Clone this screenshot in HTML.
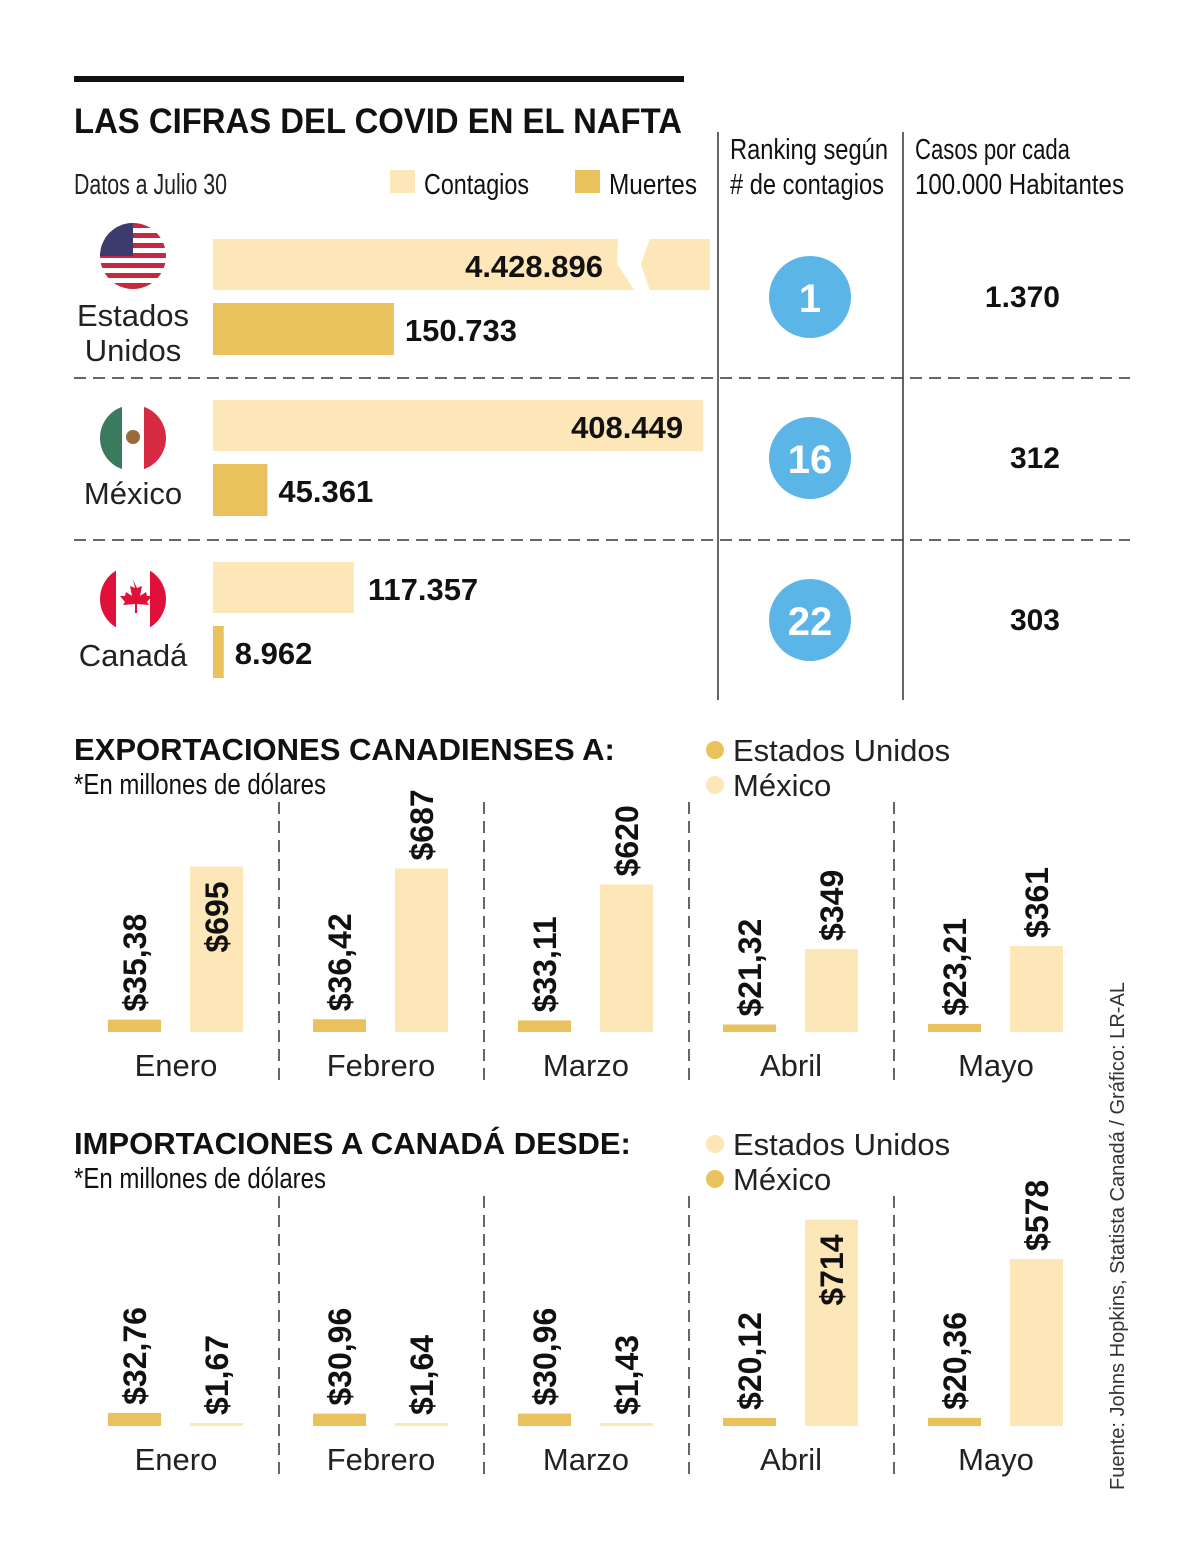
<!DOCTYPE html>
<html><head><meta charset="utf-8"><style>
body{margin:0;background:#fff}
svg{display:block;font-family:"Liberation Sans",sans-serif}
</style></head><body>
<svg id="s" width="1200" height="1566" viewBox="0 0 1200 1566" xmlns="http://www.w3.org/2000/svg">
<rect x="0" y="0" width="1200" height="1566" fill="#fff"/>
<rect x="74" y="76" width="610" height="6" fill="#111"/>
<text x="74" y="133" font-size="35" font-weight="bold" textLength="608" lengthAdjust="spacingAndGlyphs" fill="#111">LAS CIFRAS DEL COVID EN EL NAFTA</text>
<text x="74" y="194" font-size="29" textLength="153" lengthAdjust="spacingAndGlyphs" fill="#222">Datos a Julio 30</text>
<rect x="390" y="170" width="25" height="23" fill="#fde6b7"/>
<text x="424" y="194" font-size="29" textLength="105" lengthAdjust="spacingAndGlyphs" fill="#111">Contagios</text>
<rect x="575" y="170" width="25" height="23" fill="#e9c25e"/>
<text x="609" y="194" font-size="29" textLength="88" lengthAdjust="spacingAndGlyphs" fill="#111">Muertes</text>
<line x1="718" y1="132" x2="718" y2="700" stroke="#333" stroke-width="1.5"/>
<line x1="903" y1="132" x2="903" y2="700" stroke="#333" stroke-width="1.5"/>
<text font-size="29" fill="#111"><tspan x="730" y="159" textLength="158" lengthAdjust="spacingAndGlyphs">Ranking según</tspan><tspan x="730" y="194" textLength="154" lengthAdjust="spacingAndGlyphs"># de contagios</tspan></text>
<text font-size="29" fill="#111"><tspan x="915" y="159" textLength="155" lengthAdjust="spacingAndGlyphs">Casos por cada</tspan><tspan x="915" y="194" textLength="209" lengthAdjust="spacingAndGlyphs">100.000 Habitantes</tspan></text>
<line x1="74" y1="378" x2="1130" y2="378" stroke="#333" stroke-width="1.5" stroke-dasharray="12,7"/>
<line x1="74" y1="540" x2="1130" y2="540" stroke="#333" stroke-width="1.5" stroke-dasharray="12,7"/>
<defs>
<clipPath id="cu"><circle cx="133" cy="256" r="33"/></clipPath>
<clipPath id="cm"><circle cx="133" cy="438" r="33"/></clipPath>
<clipPath id="cc"><circle cx="133" cy="599" r="33"/></clipPath>
</defs>
<g clip-path="url(#cu)">
<rect x="100" y="223" width="66" height="66" fill="#fff"/>
<g fill="#c8283e"><rect x="100" y="223" width="66" height="5"/><rect x="100" y="233" width="66" height="5"/><rect x="100" y="243" width="66" height="5"/><rect x="100" y="253" width="66" height="5"/><rect x="100" y="263" width="66" height="5"/><rect x="100" y="273" width="66" height="5"/><rect x="100" y="283" width="66" height="6"/></g>
<rect x="100" y="223" width="33" height="33" fill="#3c3b6e"/>
</g>
<g clip-path="url(#cm)">
<rect x="100" y="405" width="22" height="66" fill="#3a7a5e"/><rect x="122" y="405" width="22" height="66" fill="#fff"/><rect x="144" y="405" width="22" height="66" fill="#d62a42"/>
<circle cx="133" cy="437" r="7" fill="#9a6b3a"/>
</g>
<g clip-path="url(#cc)">
<rect x="100" y="566" width="66" height="66" fill="#fff"/><rect x="100" y="566" width="16" height="66" fill="#e0103a"/><rect x="150" y="566" width="16" height="66" fill="#e0103a"/>
<path d="M133 580 l4 8 5-2 -2 10 6-4 1 4 5 0 -5 6 2 3 -12 -1 0 9 -2 0 0 -9 -12 1 2 -3 -5 -6 5 0 1 -4 6 4 -2 -10 5 2z" fill="#e0103a"/>
</g>
<text x="133" text-anchor="middle" font-size="31" fill="#222"><tspan x="133" y="326">Estados</tspan><tspan x="133" y="361">Unidos</tspan></text>
<text x="133" y="504" text-anchor="middle" font-size="31" fill="#222">México</text>
<text x="133" y="666" text-anchor="middle" font-size="31" fill="#222">Canadá</text>
<g id="covid"></g>
<g id="exp"></g>
<g id="imp"></g>
<text transform="translate(1124,1490) rotate(-90)" font-size="20" fill="#333" textLength="508" lengthAdjust="spacingAndGlyphs">Fuente: Johns Hopkins, Statista Canadá / Gráfico: LR-AL</text>
</svg>
<script>
const NS="http://www.w3.org/2000/svg";
const countries=["usa","mexico","canada"];
const contagios=[4428896,408449,117357];
const muertes=[150733,45361,8962];
const contagiosLabels=["4.428.896","408.449","117.357"];
const muertesLabels=["150.733","45.361","8.962"];
const ranking=["1","16","22"];
const casos=["1.370","312","303"];

const months=["Enero","Febrero","Marzo","Abril","Mayo"];
const expUS=[35.38,36.42,33.11,21.32,23.21];
const expMX=[695,687,620,349,361];
const expUSLabels=["$35,38","$36,42","$33,11","$21,32","$23,21"];
const expMXLabels=["$695","$687","$620","$349","$361"];
const impUS=[32.76,30.96,30.96,20.12,20.36];
const impMX=[1.67,1.64,1.43,714,578];
const impUSLabels=["$32,76","$30,96","$30,96","$20,12","$20,36"];
const impMXLabels=["$1,67","$1,64","$1,43","$714","$578"];

function mk(tag,attrs,parent,txt){const e=document.createElementNS(NS,tag);for(const k in attrs)e.setAttribute(k,attrs[k]);if(txt!==undefined)e.textContent=txt;parent.appendChild(e);return e;}

const cv=document.getElementById('covid');
const x0=213, kx=0.0012, maxW=497;
const rowY=[239,400,562];
countries.forEach((c,i)=>{
  const y=rowY[i];
  let w=contagios[i]*kx; const broken=w>maxW; if(broken)w=maxW;
  const b=mk('rect',{x:x0,y:y,width:w,height:51,fill:'#fde6b7'},cv);
  
  
  if(broken){
    const br=mk('polygon',{points:(x0+405)+","+(y-1)+" "+(x0+437)+","+(y-1)+" "+(x0+428)+","+(y+25)+" "+(x0+437)+","+(y+52)+" "+(x0+422)+","+(y+52)+" "+(x0+404)+","+(y+25),fill:'#fff'},cv);
    
    
  }
  const inside=w>300;
  const t=mk('text',{x:inside?x0+w-(broken?107:20):x0+w+14,y:y+38,'font-size':31,'font-weight':'bold',fill:'#111','text-anchor':inside?'end':'start'},cv,contagiosLabels[i]);
  
  
  const dw=muertes[i]*kx;
  const d=mk('rect',{x:x0,y:y+64,width:dw,height:52,fill:'#e9c25e'},cv);
  
  
  const dt=mk('text',{x:x0+dw+11,y:y+102,'font-size':31,'font-weight':'bold',fill:'#111'},cv,muertesLabels[i]);
  
  
  const cy=y+58;
  const ci=mk('circle',{cx:810,cy:cy,r:41,fill:'#5bb5e6'},cv);
  
  
  const rt=mk('text',{x:810,y:cy+15,'font-size':40,'font-weight':'bold',fill:'#fff','text-anchor':'middle'},cv,ranking[i]);
  
  
  const ct=mk('text',{x:1060,y:cy+10,'font-size':30,'font-weight':'bold',fill:'#111','text-anchor':'end'},cv,casos[i]);
  
  
});

function barChart(gid,top,title,legend,usVals,mxVals,usLabels,mxLabels,usK,mxK,usColor,mxColor,legColors){
  const g=document.getElementById(gid);
  const base=top+302;
  const mxMax=Math.max(...mxVals);
  const tt=mk('text',{x:74,y:top+30,'font-size':31,'font-weight':'bold',fill:'#111'},g,title);
  
  
  const st=mk('text',{x:74,y:top+64,'font-size':29,fill:'#111',textLength:252,lengthAdjust:'spacingAndGlyphs'},g,'*En millones de dólares');
  
  
  legend.forEach((l,i)=>{
    const d=mk('circle',{cx:715,cy:top+20+i*35,r:9,fill:legColors[i]},g);
    
    
    const lt=mk('text',{x:733,y:top+31+i*35,'font-size':31,fill:'#222'},g,l);
    
    
  });
  [279,484,689,894].forEach(x=>{
    const ln=mk('line',{x1:x,y1:top+72,x2:x,y2:base+50,stroke:'#333','stroke-width':1.5,'stroke-dasharray':'12,7'},g);
    
    
  });
  months.forEach((m,i)=>{
    const gx=108+i*205;
    const hu=usVals[i]*usK, hm=Math.max(mxVals[i]*mxK,3);
    const b1=mk('rect',{x:gx,y:base-hu,width:53,height:hu,fill:usColor},g);
    
    
    const b2=mk('rect',{x:gx+82,y:base-hm,width:53,height:hm,fill:mxColor},g);
    
    
    const l1=mk('text',{transform:'translate('+(gx+38)+','+(base-hu-8)+') rotate(-90)','font-size':32,'font-weight':'bold',fill:'#111'},g,usLabels[i]);
    
    
    const inside=mxVals[i]===mxMax;
    const ly=inside?(base-hm+86):(base-hm-8);
    const l2=mk('text',{transform:'translate('+(gx+120)+','+ly+') rotate(-90)','font-size':32,'font-weight':'bold',fill:'#111'},g,mxLabels[i]);
    
    
    const ml=mk('text',{x:gx+68,y:base+44,'font-size':31,fill:'#222','text-anchor':'middle'},g,m);
    
    
  });
}
barChart('exp',730,'EXPORTACIONES CANADIENSES A:',["Estados Unidos","México"],expUS,expMX,expUSLabels,expMXLabels,0.35,0.238,'#e9c25e','#fde6b7',['#e9c25e','#fde6b7']);
barChart('imp',1124,'IMPORTACIONES A CANADÁ DESDE:',["Estados Unidos","México"],impUS,impMX,impUSLabels,impMXLabels,0.4,0.289,'#e9c25e','#fde6b7',['#fde6b7','#e9c25e']);
</script>
</body></html>
